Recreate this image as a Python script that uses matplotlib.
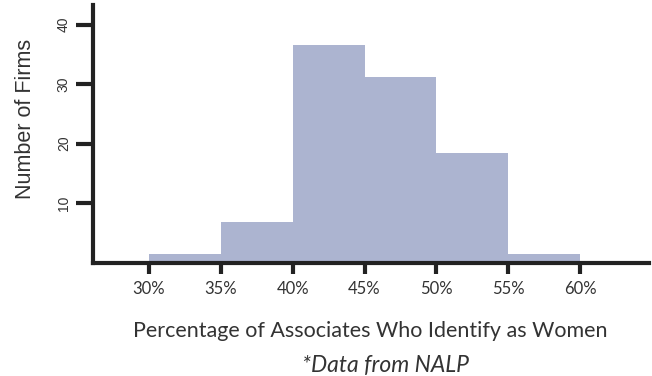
import matplotlib.pyplot as plt

# bin edges (percent) and bar heights
bin_edges = [30, 35, 40, 45, 50, 55, 60]
firm_counts = [1.5, 6.8, 36.6, 31.2, 18.4, 1.5]
x_ticks = [30, 35, 40, 45, 50, 55, 60]
x_tick_labels = ["30%", "35%", "40%", "45%", "50%", "55%", "60%"]
y_ticks = [10, 20, 30, 40]

bar_color = "#acb4d0"
ink = "#222222"
text_color = "#333333"

fig = plt.figure(figsize=(6.52, 3.76), dpi=100)
ax = fig.add_axes([93 / 652, (376 - 262.5) / 376, (649 - 93) / 652, (262.5 - 5) / 376])

widths = [bin_edges[i + 1] - bin_edges[i] for i in range(len(firm_counts))]
ax.bar(bin_edges[:-1], firm_counts, width=widths, align="edge",
       color=bar_color, linewidth=0, zorder=1)

ax.set_xlim(26.1, 64.8)
ax.set_ylim(0, 43.3)

for side in ["top", "right"]:
    ax.spines[side].set_visible(False)
for side in ["left", "bottom"]:
    ax.spines[side].set_linewidth(3)
    ax.spines[side].set_color(ink)
    ax.spines[side].set_zorder(3)

ax.set_xticks(x_ticks)
ax.set_xticklabels(x_tick_labels, fontfamily="Lato", fontsize=12, color=text_color)
ax.set_yticks(y_ticks)
ax.set_yticklabels([str(v) for v in y_ticks], rotation=90, va="center",
                   fontfamily="Liberation Sans", fontsize=10, color=text_color)
ax.tick_params(axis="x", length=8, width=3, color=ink, pad=5)
ax.tick_params(axis="y", length=12, width=3, color=ink, pad=4)

fig.text(26 / 652, 1 - 118.5 / 376, "Number of Firms", rotation=90, ha="center", va="center",
         fontfamily="Liberation Sans", fontsize=15.5, color=text_color)
fig.text(370 / 652, 1 - 337 / 376, "Percentage of Associates Who Identify as Women",
         ha="center", va="baseline", fontfamily="Lato", fontsize=15.5, color=text_color)
fig.text(385 / 652, 1 - 372 / 376, "*Data from NALP", ha="center", va="baseline",
         fontfamily="Lato", fontstyle="italic", fontsize=16.5, color=text_color)

fig.savefig("out.png", dpi=100)
